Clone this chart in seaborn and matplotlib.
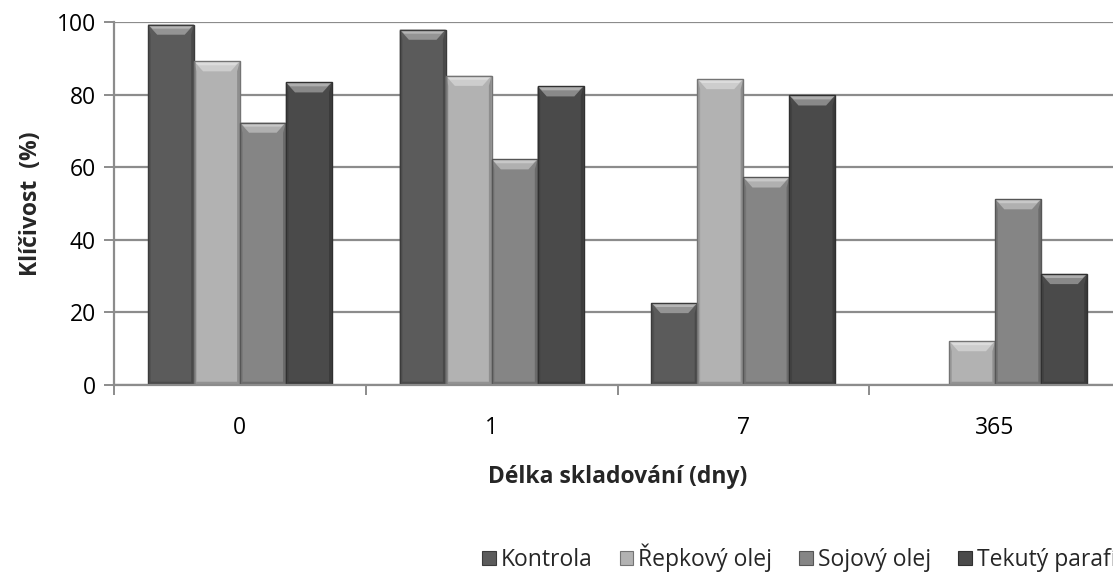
import numpy as np
import pandas as pd
import matplotlib
matplotlib.use("Agg")
import matplotlib.pyplot as plt
from matplotlib.patches import Polygon, Patch
from matplotlib.colors import to_rgb
import seaborn as sns

# Germination (%) by storage length and seed treatment
days = ["0", "1", "7", "365"]
kontrola = [99.3, 97.9, 22.6, 0.0]
repkovy = [89.2, 85.2, 84.3, 12.1]
sojovy = [72.3, 62.2, 57.2, 51.2]
parafin = [83.4, 82.3, 79.8, 30.6]
series_names = ["Kontrola", "Řepkový olej", "Sojový olej", "Tekutý parafín"]
colors = ["#5b5b5b", "#b2b2b2", "#858585", "#4a4a4a"]

df = pd.DataFrame({
    "den": days * 4,
    "osetreni": np.repeat(series_names, len(days)),
    "klicivost": kontrola + repkovy + sojovy + parafin,
})

sns.set_theme(style="white")
plt.rcParams["font.family"] = ["Open Sans", "DejaVu Sans"]
FS = 16.5

fig = plt.figure(figsize=(11.13, 5.73), dpi=100)
ax = fig.add_axes([114 / 1113, 1 - 385 / 573, 1007 / 1113, 363 / 573])

sns.barplot(data=df, x="den", y="klicivost", hue="osetreni",
            order=days, hue_order=series_names, palette=colors,
            width=0.73, gap=0, saturation=1, ax=ax, legend=False,
            linewidth=0)


def mix(c, other, t):
    c = np.array(to_rgb(c)); o = np.array(to_rgb(other))
    return tuple(c * (1 - t) + o * t)


# bevelled look on every bar, built from the bar geometry itself
for p in list(ax.patches):
    h = p.get_height()
    if h <= 0:
        continue
    x0 = p.get_x(); w = p.get_width()
    base = to_rgb(p.get_facecolor())
    dx = w * 0.2
    dy = min(2.8, h * 0.45)
    z = p.get_zorder()
    # top bevel
    ax.add_patch(Polygon([(x0, h), (x0 + w, h), (x0 + w - dx, h - dy), (x0 + dx, h - dy)],
                         closed=True, facecolor=mix(base, "white", 0.35),
                         edgecolor="none", zorder=z + 0.1))
    ax.add_patch(Polygon([(x0, h), (x0 + w, h), (x0 + w - dx * 0.5, h - dy * 0.4), (x0 + dx * 0.5, h - dy * 0.4)],
                         closed=True, facecolor=mix(base, "white", 0.55),
                         edgecolor="none", zorder=z + 0.2))
    # side shading
    ax.add_patch(Polygon([(x0, h), (x0 + dx * 0.3, h - dy), (x0 + dx * 0.3, 0.6), (x0, 0)],
                         closed=True, facecolor=mix(base, "black", 0.12),
                         edgecolor="none", zorder=z + 0.1))
    ax.add_patch(Polygon([(x0 + w, h), (x0 + w - dx * 0.3, h - dy), (x0 + w - dx * 0.3, 0.6), (x0 + w, 0)],
                         closed=True, facecolor=mix(base, "black", 0.2),
                         edgecolor="none", zorder=z + 0.1))
    # bottom bevel
    ax.add_patch(Polygon([(x0, 0), (x0 + w, 0), (x0 + w - dx * 0.3, 0.9), (x0 + dx * 0.3, 0.9)],
                         closed=True, facecolor=mix(base, "black", 0.18),
                         edgecolor="none", zorder=z + 0.1))
    # outline
    ax.add_patch(Polygon([(x0, 0), (x0, h), (x0 + w, h), (x0 + w, 0)], closed=True,
                         facecolor="none", edgecolor=mix(base, "black", 0.35),
                         linewidth=1.0, zorder=z + 0.3))

ax.set_xlim(-0.5, 3.5)
ax.set_ylim(0, 100)
ax.set_yticks([0, 20, 40, 60, 80, 100])
grid_c = "#8c8c8c"
ax.yaxis.grid(True, color=grid_c, linewidth=1.6)
ax.set_axisbelow(True)

for s in ["top", "right"]:
    ax.spines[s].set_visible(False)
for s in ["left", "bottom"]:
    ax.spines[s].set_color(grid_c)
    ax.spines[s].set_linewidth(1.6)

# category boundaries carry the tick marks, labels sit at the centres
ax.set_xticks(np.arange(-0.5, 4.0, 1.0), minor=True)
ax.tick_params(axis="x", which="major", length=0, labelsize=FS, pad=22, colors="black")
ax.tick_params(axis="x", which="minor", length=7, width=1.4, color=grid_c, direction="out", bottom=True)
ax.tick_params(axis="y", which="major", length=7, width=1.4, color=grid_c, direction="out",
               left=True, labelsize=FS, pad=6, labelcolor="black")

ax.set_xlabel("Délka skladování (dny)", fontsize=FS, fontweight="bold", labelpad=18)
ax.set_ylabel("Klíčivost  (%)", fontsize=FS, fontweight="bold", labelpad=10)

handles = [Patch(facecolor=c, edgecolor=mix(c, "black", 0.35), linewidth=0.8) for c in colors]
fig.legend(handles, series_names, loc="center left",
           bbox_to_anchor=(482 / 1113, 1 - 558 / 573), ncol=4, frameon=False,
           fontsize=FS, handlelength=0.6, handleheight=0.6, handletextpad=0.2,
           columnspacing=1.2, borderaxespad=0, borderpad=0)

fig.savefig("out.png", dpi=100)
